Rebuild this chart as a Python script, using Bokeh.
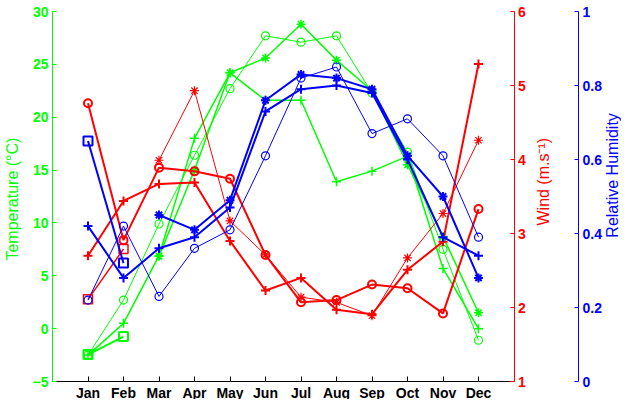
import numpy as np
from bokeh.plotting import figure
from bokeh.models import Range1d, LinearAxis, FixedTicker, NumeralTickFormatter, Label
from bokeh.embed import file_html
from bokeh.resources import INLINE

# ---------------- data ----------------
months = list(range(1, 13))
month_labels = ["Jan", "Feb", "Mar", "Apr", "May", "Jun",
                "Jul", "Aug", "Sep", "Oct", "Nov", "Dec"]
star_months = months[2:]      # Mar..Dec
square_months = months[:2]    # Jan..Feb

temp_ticks = [-5, 0, 5, 10, 15, 20, 25, 30]
wind_ticks = [1, 2, 3, 4, 5, 6]
hum_ticks = [0, 0.2, 0.4, 0.6, 0.8, 1]

# Temperature (deg C)
temp_circle = [-2.5, 2.7, 9.9, 16.4, 22.7, 27.7, 27.1, 27.7, 22.3, 16.7, 7.5, -1.1]
temp_plus = [-2.5, 0.5, 6.9, 18.0, 24.2, 21.6, 21.6, 13.9, 14.9, 16.3, 5.7, 0.0]
temp_star = [6.85, 15.0, 24.2, 25.6, 28.8, 25.4, 22.5, 15.5, 8.7, 1.5]
temp_square = [-2.45, -0.75]

# Wind (m/s)
wind_circle = [4.76, 2.91, 3.89, 3.84, 3.74, 2.71, 2.07, 2.10, 2.31, 2.26, 1.92, 3.33]
wind_plus = [2.70, 3.44, 3.67, 3.69, 2.90, 2.23, 2.40, 1.97, 1.91, 2.51, 2.89, 5.29]
wind_star = [3.99, 4.93, 3.17, 2.71, 2.14, 2.07, 1.89, 2.67, 3.27, 4.26]
wind_square = [2.11, 2.79]

# Relative humidity
hum_circle = [0.22, 0.42, 0.23, 0.36, 0.41, 0.61, 0.82, 0.85, 0.67, 0.71, 0.61, 0.39]
hum_plus = [0.42, 0.28, 0.36, 0.39, 0.47, 0.73, 0.79, 0.80, 0.78, 0.60, 0.39, 0.34]
hum_star = [0.45, 0.41, 0.49, 0.76, 0.83, 0.82, 0.79, 0.61, 0.50, 0.28]
hum_square = [0.65, 0.32]

# ---------------- layout (page pixels) ----------------
W, H = 621, 399          # figure size; figure sits at page offset (8, 8)
OFF = 8
X0_PX = 60.0             # page x of month 0 (left axis)
STEP_PX = 35.5           # pixels per month
TOP_PX = 19.0            # page y of the axes' top values
BOT_PX = 389.0           # page y of the axes' bottom values
BLUE_AXIS_PX = 586.0     # page x of the humidity axis

GREEN = "#00ff00"
RED = "#ff0000"
BLUE = "#0000ff"
FONT = "Liberation Sans"

xm0 = (OFF - X0_PX) / STEP_PX
xm1 = (OFF + W - X0_PX) / STEP_PX
blue_axis_x = (BLUE_AXIS_PX - X0_PX) / STEP_PX


def yrange(lo, hi):
    k = (BOT_PX - TOP_PX) / (hi - lo)
    return Range1d(lo - (OFF + H - BOT_PX) / k, hi + (TOP_PX - OFF) / k)


p = figure(width=W, height=H, x_range=Range1d(xm0, xm1), y_range=yrange(-5, 30),
           output_backend="svg", toolbar_location=None,
           min_border_left=0, min_border_top=0, min_border_right=0, min_border_bottom=0)
p.extra_y_ranges = {"wind": yrange(1, 6), "hum": yrange(0, 1)}
p.xgrid.visible = False
p.ygrid.visible = False
p.outline_line_color = None
p.background_fill_color = "white"
p.border_fill_color = "white"


def style_axis(ax, color, ticks):
    ax.ticker = FixedTicker(ticks=ticks)
    ax.axis_line_color = color
    ax.major_tick_line_color = color
    ax.minor_tick_line_color = None
    ax.major_tick_in = 4
    ax.major_tick_out = 0
    ax.major_label_text_color = color
    ax.major_label_text_font = FONT
    ax.major_label_text_font_style = "bold"
    ax.major_label_text_font_size = "14px"
    ax.major_label_standoff = 4
    ax.axis_label = None


# left temperature axis
ly = p.yaxis[0]
style_axis(ly, GREEN, temp_ticks)
ly.fixed_location = 0
ly.bounds = (-5, 30)

# bottom month axis
bx = p.xaxis[0]
bx.ticker = FixedTicker(ticks=months)
bx.major_label_overrides = {m: lab for m, lab in zip(months, month_labels)}
bx.axis_label = None
bx.fixed_location = -5
bx.bounds = (0, 13)
bx.axis_line_color = "black"
bx.major_tick_line_color = "black"
bx.minor_tick_line_color = None
bx.major_tick_in = 5
bx.major_tick_out = 0
bx.major_label_standoff = 3
bx.major_label_text_font = FONT
bx.major_label_text_font_style = "bold"
bx.major_label_text_font_size = "14px"
bx.major_label_text_color = "black"

# wind axis at the right edge of the months
wax = LinearAxis(y_range_name="wind")
style_axis(wax, RED, wind_ticks)
wax.fixed_location = 13
wax.bounds = (1, 6)
p.add_layout(wax, "right")

# humidity axis further right
hax = LinearAxis(y_range_name="hum")
style_axis(hax, BLUE, hum_ticks)
hax.formatter = NumeralTickFormatter(format="0.[0]")
hax.fixed_location = blue_axis_x
hax.bounds = (0, 1)
p.add_layout(hax, "right")


def title_label(text, px, frac, color):
    # px: page x of text centre; frac: vertical centre as fraction of axis height from top
    t = 30 - frac * 35
    p.add_layout(Label(x=(px - X0_PX) / STEP_PX, y=t, text=text, angle=np.pi / 2,
                       text_align="center", text_baseline="middle", text_color=color,
                       text_font=FONT, text_font_size="16px"))


title_label("Temperature (°C)", 20, 0.507, GREEN)
title_label("Wind (m.s⁻¹)", 551, 0.46, RED)
title_label("Relative Humidity", 620, 0.443, BLUE)


def draw(x, y, color, marker, lw, size, rng="default"):
    p.line(x, y, line_color=color, line_width=lw, y_range_name=rng)
    p.scatter(x, y, marker=marker, size=size, line_color=color, fill_color=None,
              line_width=max(lw, 1.2), y_range_name=rng)


# green: temperature
draw(months, temp_circle, GREEN, "circle", 1, 8)
draw(months, temp_plus, GREEN, "cross", 1.5, 9)
draw(star_months, temp_star, GREEN, "asterisk", 1.5, 9)
draw(square_months, temp_square, GREEN, "square", 2, 9)

# red: wind
draw(months, wind_circle, RED, "circle", 2, 8, "wind")
draw(months, wind_plus, RED, "cross", 2, 9, "wind")
draw(star_months, wind_star, RED, "asterisk", 1, 9, "wind")
draw(square_months, wind_square, RED, "square", 1.5, 9, "wind")

# blue: humidity
draw(months, hum_circle, BLUE, "circle", 1, 8, "hum")
draw(months, hum_plus, BLUE, "cross", 2, 9, "hum")
draw(star_months, hum_star, BLUE, "asterisk", 2, 9, "hum")
draw(square_months, hum_square, BLUE, "square", 2, 9, "hum")

open("out.html", "w").write(file_html(p, INLINE))
